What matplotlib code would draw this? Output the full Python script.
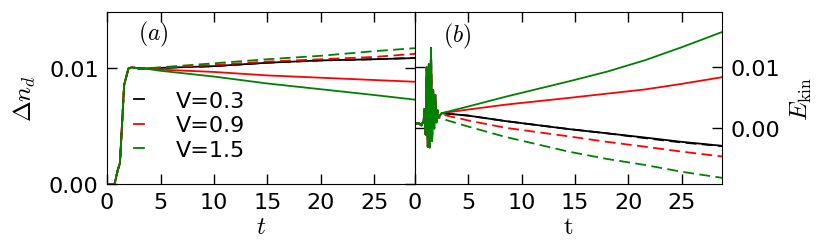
import matplotlib
matplotlib.use("Agg")
import matplotlib.pyplot as plt

plt.rcParams['mathtext.fontset'] = 'cm'
plt.rcParams['font.family'] = ['DejaVu Sans']
plt.rcParams['font.size'] = 16

# panel (a): occupation change
t_a = [0, 0.7, 1.0, 1.2, 1.6, 2.0, 2.3, 3.0, 3.5, 5, 10, 15, 20, 25, 28.8]
rise = [0, 0, 0.0012, 0.0018, 0.0086, 0.0100, 0.0101, 0.0100, 0.0100]
nd_black = rise + [0.01005, 0.0102, 0.0105, 0.0107, 0.0108, 0.0109]
nd_black_d = rise + [0.01005, 0.0102, 0.0105, 0.0107, 0.0108, 0.01092]
nd_red = rise + [0.0099, 0.0097, 0.0094, 0.0092, 0.0090, 0.00885]
nd_red_d = rise + [0.01007, 0.0103, 0.0106, 0.0108, 0.0110, 0.01127]
nd_green = rise + [0.0098, 0.0093, 0.0087, 0.0082, 0.0077, 0.0073]
nd_green_d = rise + [0.0101, 0.01045, 0.0108, 0.0111, 0.0115, 0.01176]

# panel (b): kinetic energy
t_b = [0, 0.3, 0.6, 0.8, 0.9, 1.0, 1.1, 1.2, 1.3, 1.4, 1.5, 1.6, 1.7, 1.8,
       1.9, 2.0, 2.1, 2.2, 2.5, 5, 8.5, 14.4, 18, 21.6, 25, 28.8]
osc = [0.0007, 0.0009, 0.0005, 0.0012, 0.0032, -0.001, 0.0100, -0.003, 0.0105,
       -0.0031, 0.0132, -0.002, 0.0063, 0.0000, 0.0055, 0.0010, 0.0030, 0.0018]
ek_black = osc + [0.0025, 0.0021, 0.0012, -0.0001, -0.0008, -0.0015, -0.0022, -0.00285]
ek_black_d = osc + [0.0025, 0.0021, 0.0012, -0.0001, -0.0008, -0.0016, -0.0023, -0.0029]
ek_red = osc + [0.0025, 0.0031, 0.0039, 0.0050, 0.0057, 0.0064, 0.0073, 0.0084]
ek_red_d = osc + [0.0023, 0.0013, 0.0001, -0.0013, -0.0022, -0.0030, -0.0038, -0.0046]
ek_green = osc + [0.0025, 0.0036, 0.0052, 0.0077, 0.0093, 0.0112, 0.0133, 0.0158]
ek_green_d = osc + [0.0016, 0.0003, -0.0014, -0.0038, -0.0050, -0.0060, -0.0071, -0.0081]

labels = ['V=0.3', 'V=0.9', 'V=1.5']
colors = ['black', 'red', 'green']

fig = plt.figure(figsize=(8.3, 2.53), dpi=100)
ax1 = fig.add_axes([0.129, 0.269, 0.371, 0.680])
ax2 = fig.add_axes([0.500, 0.269, 0.370, 0.680])

dash = (6, 3)
lw = 1.3
for ys, yd, c, lab in zip([nd_black, nd_red, nd_green],
                          [nd_black_d, nd_red_d, nd_green_d], colors, labels):
    ax1.plot(t_a, ys, color=c, lw=lw, label=lab)
    ax1.plot(t_a, yd, color=c, lw=lw, dashes=dash)

for ys, yd, c in zip([ek_black, ek_red, ek_green],
                     [ek_black_d, ek_red_d, ek_green_d], colors):
    ax2.plot(t_b, yd, color=c, lw=lw, dashes=dash)
    ax2.plot(t_b, ys, color=c, lw=lw)

ax1.set_xlim(0, 28.8)
ax1.set_ylim(0, 0.0149)
ax1.set_xticks([0, 5, 10, 15, 20, 25])
ax1.set_yticks([0.0, 0.01])
ax1.set_yticklabels(['0.00', '0.01'])
ax1.set_xlabel('$t$', fontsize=18, labelpad=1)
ax1.set_ylabel(r'$\Delta n_d$', fontsize=18, labelpad=8)
ax1.text(0.1, 0.84, '$(a)$', transform=ax1.transAxes, fontsize=17)

ax2.set_xlim(0, 28.8)
ax2.set_ylim(-0.0091, 0.0191)
ax2.set_xticks([0, 5, 10, 15, 20, 25])
ax2.set_yticks([0.0, 0.01])
ax2.set_yticklabels(['0.00', '0.01'])
ax2.yaxis.tick_right()
ax2.yaxis.set_label_position('right')
ax2.set_xlabel(r'$\mathrm{t}$', fontsize=18, labelpad=1)
ax2.set_ylabel(r'$E_{\rm kin}$', fontsize=18, labelpad=6)
ax2.text(0.09, 0.83, '$(b)$', transform=ax2.transAxes, fontsize=17)

for ax in (ax1, ax2):
    ax.tick_params(direction='in', length=7, width=1, top=True, bottom=True,
                   left=True, right=True, labelsize=16, pad=6)

ax2.tick_params(labelleft=False, labelright=True)

ax1.legend(loc='center left', bbox_to_anchor=(0.06, 0.34), frameon=False,
           handlelength=0.45, handletextpad=1.4, labelspacing=0.2,
           borderaxespad=0, fontsize=16)

plt.savefig('out.png', dpi=100)
